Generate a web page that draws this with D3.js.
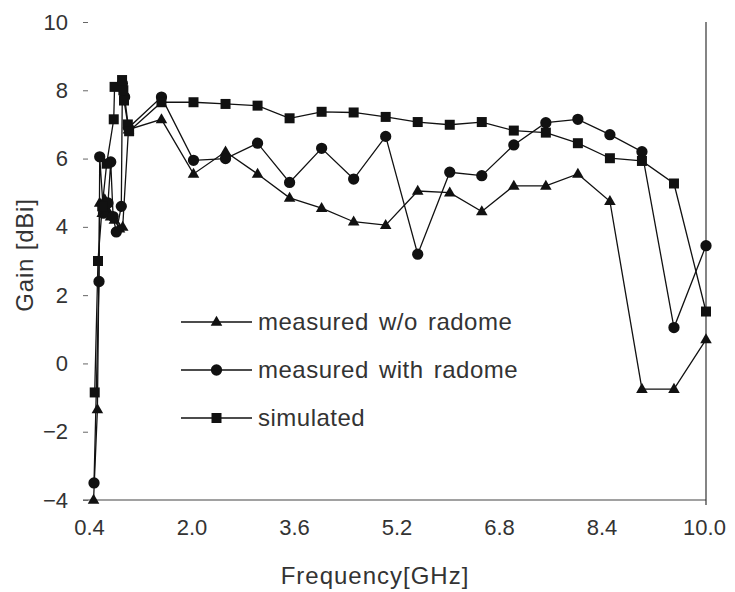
<!DOCTYPE html>
<html>
<head>
<meta charset="utf-8">
<script src="https://cdn.jsdelivr.net/npm/d3@7"></script>
<style>
  html, body { margin: 0; padding: 0; background: #fff; }
  svg { display: block; }
  text { font-family: "Liberation Sans", Arial, sans-serif; fill: #333; }
</style>
</head>
<body>
<svg id="chart" width="735" height="592"></svg>
<script>
// Gain vs. frequency for the antenna, with and without radome, and simulation
const freqNoRadome = [0.44, 0.50, 0.535, 0.575, 0.615, 0.655, 0.705, 0.765, 0.845, 0.895, 0.985,
  1.5, 2.0, 2.5, 3.0, 3.5, 4.0, 4.5, 5.0, 5.5, 6.0, 6.5, 7.0, 7.5, 8.0, 8.5, 9.0, 9.5, 10.0];
const gainNoRadome = [-4.0, -1.35, 4.7, 4.4, 4.8, 4.5, 4.3, 4.2, 3.95, 4.0, 6.85,
  7.15, 5.55, 6.2, 5.55, 4.85, 4.55, 4.15, 4.05, 5.05, 5.0, 4.45, 5.2, 5.2, 5.55, 4.75, -0.75, -0.75, 0.7];

const freqRadome = [0.447, 0.525, 0.536, 0.595, 0.665, 0.708, 0.745, 0.795, 0.873, 0.89, 0.925, 0.985,
  1.5, 2.0, 2.5, 3.0, 3.5, 4.0, 4.5, 5.0, 5.5, 6.0, 6.5, 7.0, 7.5, 8.0, 8.5, 9.0, 9.5, 10.0];
const gainRadome = [-3.5, 2.4, 6.05, 4.4, 4.7, 5.9, 4.3, 3.85, 4.6, 8.2, 7.8, 6.9,
  7.8, 5.95, 6.0, 6.45, 5.3, 6.3, 5.4, 6.65, 3.2, 5.6, 5.5, 6.4, 7.05, 7.15, 6.7, 6.2, 1.05, 3.45];

const freqSim = [0.458, 0.509, 0.575, 0.645, 0.755, 0.768, 0.885, 0.905, 0.915, 0.975, 0.995,
  1.5, 2.0, 2.5, 3.0, 3.5, 4.0, 4.5, 5.0, 5.5, 6.0, 6.5, 7.0, 7.5, 8.0, 8.5, 9.0, 9.5, 10.0];
const gainSim = [-0.85, 3.0, 4.6, 5.85, 7.15, 8.1, 8.3, 8.0, 7.7, 7.0, 6.8,
  7.65, 7.65, 7.6, 7.55, 7.18, 7.37, 7.35, 7.22, 7.07, 6.99, 7.07, 6.82, 6.76, 6.45, 6.01, 5.93, 5.27, 1.52];

const xTicks = [0.4, 2.0, 3.6, 5.2, 6.8, 8.4, 10.0];
const yTicks = [-4, -2, 0, 2, 4, 6, 8, 10];

const seriesNames = ["measured w/o radome", "measured with radome", "simulated"];

const svg = d3.select("#chart");
const x = d3.scaleLinear().domain([0.4, 10]).range([91, 706]);
const y = d3.scaleLinear().domain([-4, 10]).range([500, 22]);

const ink = "#111";
const FONT = "Liberation Sans, Arial, sans-serif";

// frame: bottom axis line and right edge
svg.append("line").attr("x1", 83).attr("x2", x(10)).attr("y1", y(-4)).attr("y2", y(-4))
  .attr("stroke", "#444").attr("stroke-width", 1.2);
svg.append("line").attr("x1", x(10)).attr("x2", x(10)).attr("y1", y(10)).attr("y2", y(-4) + 5)
  .attr("stroke", "#333").attr("stroke-width", 1.2);

// y axis: short ticks and labels, no domain line
const yAxis = d3.axisLeft(y).tickValues(yTicks).tickSize(5).tickPadding(15)
  .tickFormat(d => d < 0 ? "\u2212" + Math.abs(d) : d);
const gy = svg.append("g").attr("transform", "translate(88,0)").call(yAxis);
gy.select(".domain").remove();
gy.selectAll(".tick line").attr("stroke", "#666");
gy.selectAll(".tick text").attr("font-size", 22).attr("fill", "#333").attr("font-family", FONT);

// x axis: labels only
const xAxis = d3.axisBottom(x).tickValues(xTicks).tickSize(0).tickPadding(19)
  .tickFormat(d3.format(".1f"));
const gx = svg.append("g").attr("transform", `translate(-2,${y(-4)})`).call(xAxis);
gx.select(".domain").remove();
gx.selectAll(".tick text").attr("font-size", 22).attr("fill", "#333").attr("font-family", FONT);

// axis titles
svg.append("text").attr("x", 375).attr("y", 584).attr("text-anchor", "middle")
  .attr("font-size", 24).attr("letter-spacing", 1).text("Frequency[GHz]");
svg.append("text").attr("transform", "translate(33,255) rotate(-90)")
  .attr("text-anchor", "middle").attr("font-size", 24).attr("letter-spacing", 0.8)
  .text("Gain [dBi]");

// markers
const symTri = d3.symbol().type(d3.symbolTriangle).size(58);
const symCir = d3.symbol().type(d3.symbolCircle).size(100);
const symSq = d3.symbol().type(d3.symbolSquare).size(100);

const series = [
  { f: freqNoRadome, g: gainNoRadome, sym: symTri, dy: 0.5 },
  { f: freqRadome, g: gainRadome, sym: symCir, dy: 0 },
  { f: freqSim, g: gainSim, sym: symSq, dy: 0 }
];

const line = d3.line().x(d => x(d[0])).y(d => y(d[1]));

series.forEach(s => {
  const pts = s.f.map((f, i) => [f, s.g[i]]);
  svg.append("path").datum(pts).attr("d", line)
    .attr("fill", "none").attr("stroke", ink).attr("stroke-width", 1.3);
  svg.append("g").selectAll("path").data(pts).join("path")
    .attr("d", s.sym)
    .attr("transform", d => `translate(${x(d[0])},${y(d[1]) + s.dy})`)
    .attr("fill", ink);
});

// legend
const legendY = [322, 370, 418];
series.forEach((s, i) => {
  const g = svg.append("g").attr("transform", `translate(0,${legendY[i]})`);
  g.append("line").attr("x1", 181).attr("x2", 252).attr("y1", 0).attr("y2", 0)
    .attr("stroke", ink).attr("stroke-width", 1.3);
  g.append("path").attr("d", s.sym).attr("transform", `translate(216.5,${s.dy})`).attr("fill", ink);
  g.append("text").attr("x", 258).attr("y", 8).attr("font-size", 24)
    .attr("letter-spacing", 0.5).attr("word-spacing", 3).text(seriesNames[i]);
});
</script>
</body>
</html>
